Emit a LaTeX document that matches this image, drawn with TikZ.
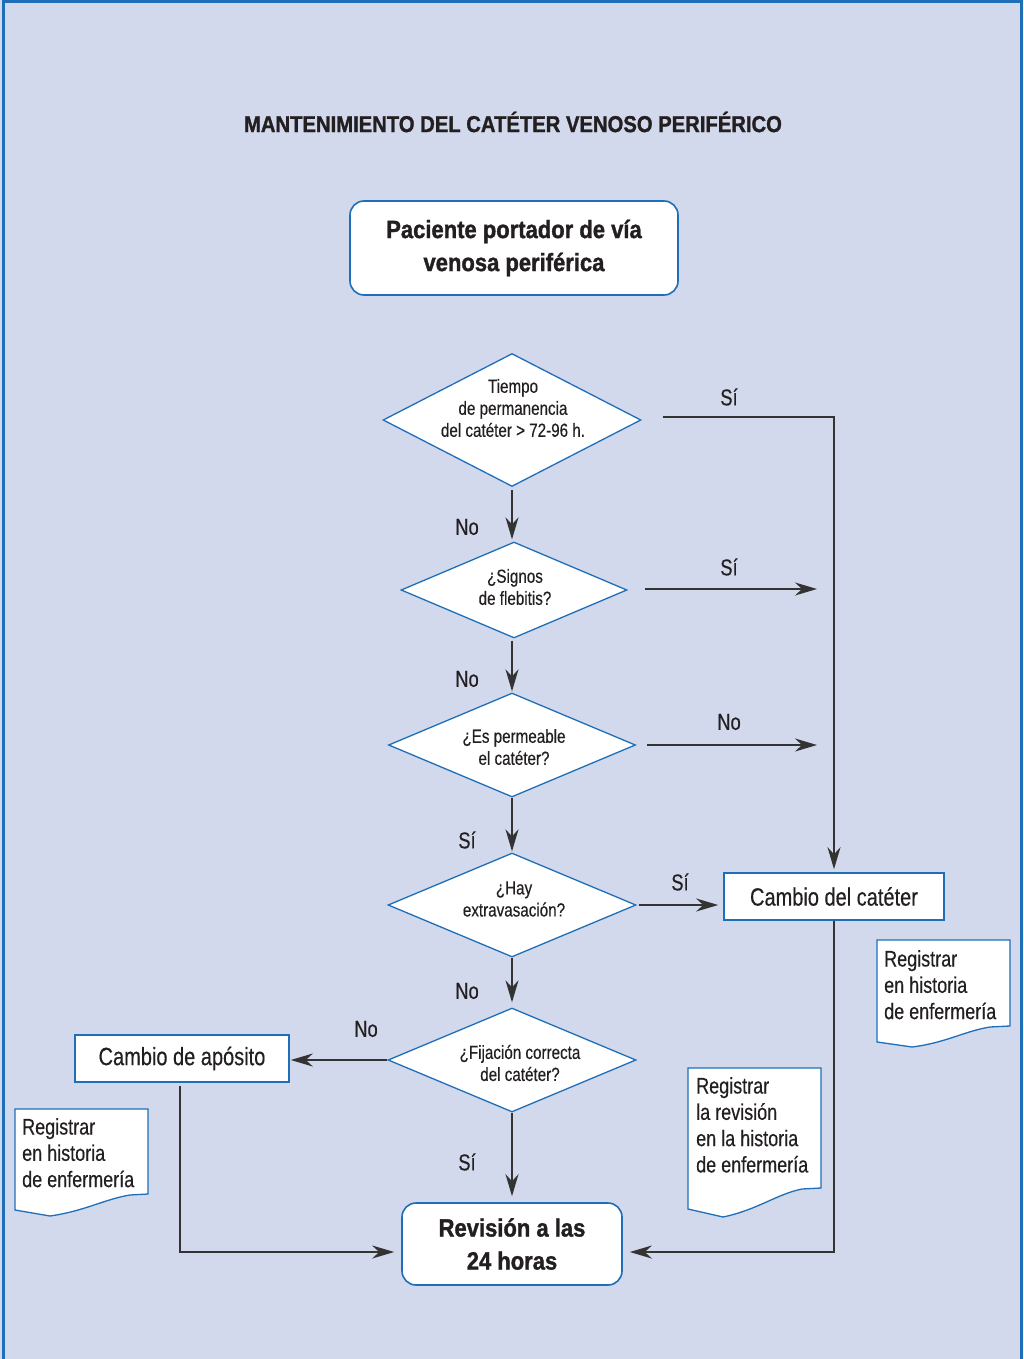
\documentclass[tikz,border=0pt]{standalone}
\usepackage{fontspec}
\setmainfont{Liberation Sans}[FakeStretch=0.8,FakeBold=0.35]
\newfontfamily\bfam{Liberation Sans}[FakeStretch=0.88,BoldFeatures={FakeBold=1.3}]
\usetikzlibrary{shapes.geometric,arrows.meta}
\definecolor{bgc}{HTML}{D3D9EC}
\definecolor{frm}{HTML}{1E6EB8}
\definecolor{ink}{HTML}{231F20}
\definecolor{lnc}{HTML}{333333}
\tikzset{
  boxr/.style={draw=frm,line width=1.6pt,fill=white,rounded corners=14pt,inner sep=0pt,
    text=ink,align=center,font=\bfam\bfseries\fontsize{25}{33}\selectfont},
  boxs/.style={draw=frm,line width=1.6pt,fill=white,inner sep=0pt,
    text=ink,align=center,font=\fontsize{25}{28}\selectfont},
  dia/.style={diamond,draw=frm,line width=1.3pt,fill=white,inner sep=0pt},
  diatext/.style={text=ink,align=center,inner sep=0pt,font=\fontsize{19}{22}\selectfont},
  lbl/.style={text=ink,inner sep=0pt,font=\fontsize{23}{26}\selectfont},
  notepath/.style={draw=frm,line width=1.3pt,fill=white},
  notetext/.style={text=ink,align=left,inner sep=0pt,anchor=north west,font=\fontsize{22.5}{26.3}\selectfont},
  conn/.style={draw=lnc,line width=1.6pt},
  arr/.style={conn,-{Stealth[length=22pt,width=13pt,inset=7pt]}},
}
\begin{document}
\begin{tikzpicture}[x=1pt,y=-1pt]
\useasboundingbox (0,0) rectangle (1023,1359);
\fill[bgc] (0,0) rectangle (1023,1359);
\draw[frm,line width=3pt] (3,1370) -- (3,2) -- (1021,2) -- (1021,1370);

\node[text=ink,font=\bfam\bfseries\fontsize{23}{26}\selectfont,inner sep=0pt] (title) at (513,122) {MANTENIMIENTO DEL CATÉTER VENOSO PERIFÉRICO};

\node[boxr,minimum width=328pt,minimum height=94pt] (pb) at (514,248) {Paciente portador de vía\\venosa periférica};

% diamonds
\node[dia,minimum width=258pt,minimum height=133pt] (d1) at (512,420) {};
\node[diatext] (d1t) at (513,408) {Tiempo\\de permanencia\\del catéter > 72-96 h.};
\node[dia,minimum width=226pt,minimum height=96pt] (d2) at (514,590) {};
\node[diatext] (d2t) at (515,587) {¿Signos\\de flebitis?};
\node[dia,minimum width=247pt,minimum height=104pt] (d3) at (512,745) {};
\node[diatext] (d3t) at (514,747) {¿Es permeable\\el catéter?};
\node[dia,minimum width=248pt,minimum height=104pt] (d4) at (512,905) {};
\node[diatext] (d4t) at (514,899) {¿Hay\\extravasación?};
\node[dia,minimum width=248pt,minimum height=104pt] (d5) at (512,1060) {};
\node[diatext] (d5t) at (520,1063) {¿Fijación correcta\\del catéter?};

% boxes
\node[boxs,minimum width=220pt,minimum height=47pt] (cc) at (834,896.5) {Cambio del catéter};
\node[boxs,minimum width=214pt,minimum height=47pt] (ca) at (182,1058.5) {Cambio de apósito};
\node[boxr,minimum width=220pt,minimum height=82pt] (rev) at (512,1244) {Revisión a las\\24 horas};

% coordinates
\coordinate (c2) at (817,589);
\coordinate (c3) at (817,745);

% connectors
\draw[arr,shorten <=21pt,shorten >=3pt] ([yshift=3pt]d1.east) -| (cc.north);
\draw[arr,shorten <=3pt,shorten >=2pt] (d1.south) -- (d1.south |- d2.north);
\draw[arr,shorten <=17pt] (d2.east |- c2) -- (c2);
\draw[arr,shorten <=2pt,shorten >=1pt] (d1.south |- d2.south) -- (d1.south |- d3.north);
\draw[arr,shorten <=11pt] (d3.east) -- (c3);
\draw[arr,shorten >=1pt] (d3.south) -- (d4.north);
\draw[arr,shorten <=2pt,shorten >=5pt] (d4.east) -- (d4.east -| cc.west);
\draw[arr,shorten >=5pt] (d4.south) -- (d5.north);
\draw[arr,shorten >=1pt] (d5.west) -- (d5.west -| ca.east);
\draw[arr,shorten >=6pt] (d5.south) -- (rev.north);
\draw[arr,shorten <=3pt,shorten >=7pt] ([xshift=-2pt]ca.south) |- ([yshift=-8pt]rev.west);
\draw[arr,shorten >=7pt] (cc.south) |- ([yshift=-8pt]rev.east);

% labels
\node[lbl] (l1) at (729,397) {Sí};
\node[lbl] (l2) at (467,527) {No};
\node[lbl] (l3) at (729,567) {Sí};
\node[lbl] (l4) at (467,679) {No};
\node[lbl] (l5) at (729,722) {No};
\node[lbl] (l6) at (467,840) {Sí};
\node[lbl] (l7) at (680,882) {Sí};
\node[lbl] (l8) at (467,991) {No};
\node[lbl] (l9) at (366,1029) {No};
\node[lbl] (l10) at (467,1162) {Sí};

% notes
\path[notepath] (877,940) -- (1010,940) -- (1010,1026) -- (990,1027)
  .. controls (965,1031) and (945,1043) .. (912,1047) -- (877,1042) -- cycle;
\node[notetext] (n1) at (884,950) {Registrar\\en historia\\de enfermería};

\path[notepath] (15,1109) -- (148,1109) -- (148,1194) -- (130,1195)
  .. controls (105,1199) and (85,1211) .. (50,1216) -- (15,1210) -- cycle;
\node[notetext] (n2) at (22,1118) {Registrar\\en historia\\de enfermería};

\path[notepath] (688,1068) -- (821,1068) -- (821,1188) -- (802,1189)
  .. controls (777,1194) and (757,1210) .. (723,1217) -- (688,1209) -- cycle;
\node[notetext] (n3) at (696,1077) {Registrar\\la revisión\\en la historia\\de enfermería};
\end{tikzpicture}
\end{document}
